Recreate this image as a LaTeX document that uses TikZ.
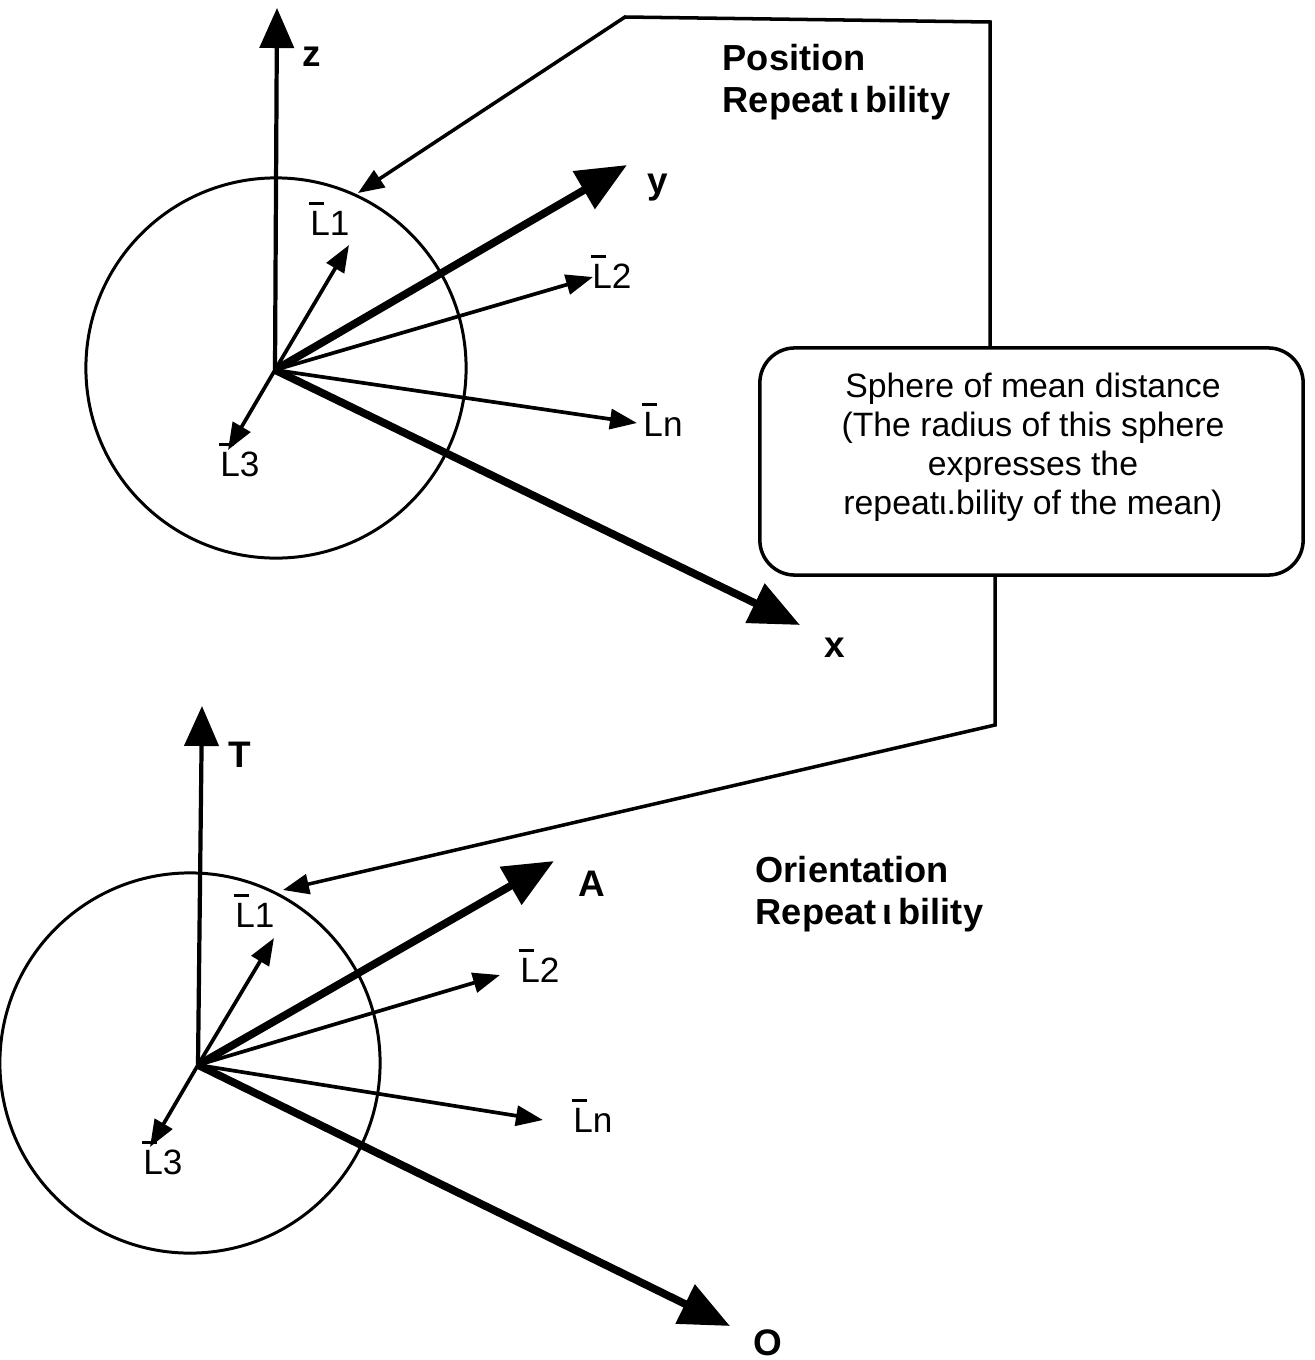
\documentclass[tikz,border=0pt]{standalone}
\usepackage{fontspec}
\setmainfont{Liberation Sans}
\usetikzlibrary{arrows.meta}
\newcommand\myLbar{\leavevmode\rlap{\kern-0.04em\rule[0.86em]{0.42em}{0.09em}}L}
\begin{document}
\begin{tikzpicture}[x=0.01cm,y=-0.01cm,
 axisthick/.style={line width=2.2pt,-{Triangle[length=0.5cm,width=0.42cm]}},
 axisthin/.style={line width=1.2pt,-{Triangle[length=0.4cm,width=0.34cm]}},
 vec/.style={line width=1.05pt,-{Triangle[length=0.27cm,width=0.2cm]}},
 callout/.style={line width=1pt},
 calloutarrow/.style={callout,-{Triangle[length=0.26cm,width=0.2cm]}},
 sphere/.style={line width=0.85pt},
 axlabel/.style={font=\fontsize{10.5}{12}\selectfont\bfseries, inner sep=0pt},
 vlabel/.style={font=\fontsize{10}{12}\selectfont, inner sep=0pt},
 titletext/.style={font=\fontsize{10.3}{11.7}\selectfont\bfseries, align=left, inner sep=0pt, anchor=north west},
 boxtext/.style={font=\fontsize{9.6}{11.1}\selectfont, align=center, inner sep=0pt, anchor=north},
 infobox/.style={draw, line width=1pt, rounded corners=0.35cm, minimum width=5.43cm, minimum height=2.27cm, inner sep=0pt},
]
\useasboundingbox (0,0) rectangle (1314,1360);

% ---------- top figure ----------
\coordinate (O1) at (275,370);
\coordinate (C1) at (276,368);
\coordinate (ztip) at (277,8);
\coordinate (ytip) at (627,165);
\coordinate (xtip) at (800,625);
\coordinate (L1tipA) at (349,245);
\coordinate (L2tipA) at (593,277);
\coordinate (LntipA) at (637,423);
\coordinate (L3tipA) at (228,450);

\draw[sphere] (C1) circle [radius=1.9cm];
\draw[axisthin] (O1) -- (ztip);
\draw[axisthick] (O1) -- (ytip);
\draw[axisthick] (O1) -- (xtip);
\draw[vec] (O1) -- (L1tipA);
\draw[vec] (O1) -- (L2tipA);
\draw[vec] (O1) -- (LntipA);
\draw[vec] (O1) -- (L3tipA);

\node[axlabel] (zlab) at (312,57) {z};
\node[axlabel] (ylab) at (658,188) {y};
\node[axlabel] (xlab) at (835,648) {x};
\node[vlabel] (L1labA) at (330,219) {\myLbar1};
\node[vlabel] (L2labA) at (612,272) {\myLbar2};
\node[vlabel] (LnlabA) at (663,420) {\myLbar n};
\node[vlabel] (L3labA) at (240,460) {\myLbar3};

\node[titletext] (postitle) at (722,44) {Position\\Repeat\,ι\,bility};

% ---------- bottom figure ----------
\coordinate (O2) at (198,1065);
\coordinate (C2) at (190,1063);
\coordinate (Ttip) at (202,706);
\coordinate (Atip) at (554,861);
\coordinate (Otip) at (730,1326);
\coordinate (L1tipB) at (274,938);
\coordinate (L2tipB) at (500,975);
\coordinate (LntipB) at (543,1120);
\coordinate (L3tipB) at (150,1147);

\draw[sphere] (C2) circle [radius=1.9cm];
\draw[axisthin] (O2) -- (Ttip);
\draw[axisthick] (O2) -- (Atip);
\draw[axisthick] (O2) -- (Otip);
\draw[vec] (O2) -- (L1tipB);
\draw[vec] (O2) -- (L2tipB);
\draw[vec] (O2) -- (LntipB);
\draw[vec] (O2) -- (L3tipB);

\node[axlabel] (Tlab) at (240,755) {T};
\node[axlabel] (Alab) at (592,884) {A};
\node[axlabel] (Olab) at (768,1343) {O};
\node[vlabel] (L1labB) at (255,911) {\myLbar1};
\node[vlabel] (L2labB) at (540,966) {\myLbar2};
\node[vlabel] (LnlabB) at (593,1116) {\myLbar n};
\node[vlabel] (L3labB) at (163,1158) {\myLbar3};

\node[titletext] (orititle) at (755,856) {Orientation\\Repeat\,ι\,bility};

% ---------- callout box ----------
\node[infobox] (box) at (1031.5,461.5) {};
\node[boxtext] (boxlabel) at (1033,372) {Sphere of mean distance\\(The radius of this sphere\\expresses the\\repeatι.bility of the mean)};

\coordinate (topA) at (990,22);
\coordinate (topB) at (625,17);
\coordinate (hitA) at (358,193);
\coordinate (botA) at (995,725);
\coordinate (hitB) at (283,890);

\draw[calloutarrow] (box.north -| topA) -- (topA) -- (topB) -- (hitA);
\draw[calloutarrow] (box.south -| botA) -- (botA) -- (hitB);
\end{tikzpicture}
\end{document}
